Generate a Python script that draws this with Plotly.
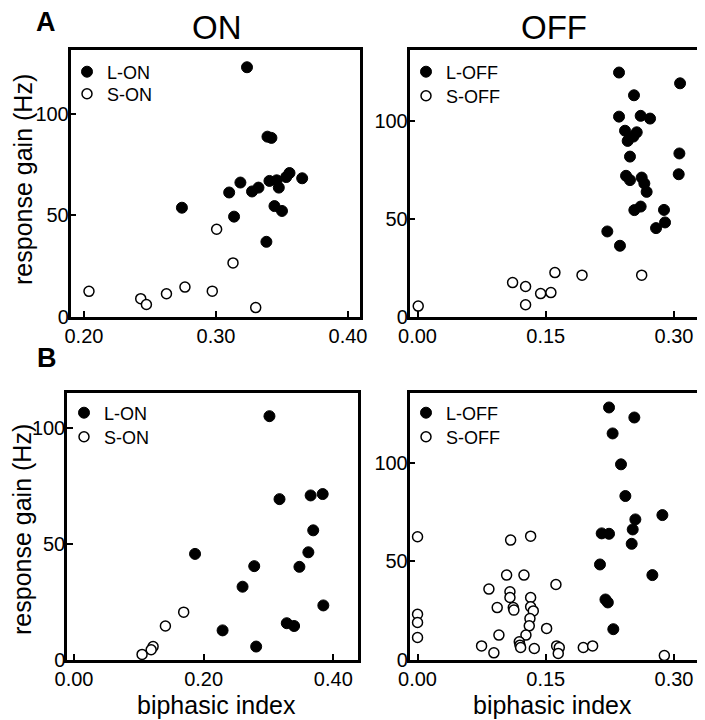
import plotly.graph_objects as go

FONT = "Liberation Sans, Arial, Helvetica, sans-serif"
# the page body has an 8 px margin; the figure starts at (8, 8) in the window
OFFSET = 8
W, H = 705 - OFFSET, 720 - OFFSET

# ---------------- data ----------------
# Panel A, ON
a_on_l_x = [0.3235, 0.339, 0.342, 0.2742, 0.310, 0.3185, 0.3137, 0.3273, 0.3322, 0.3405,
            0.346, 0.3476, 0.3443, 0.350, 0.3532, 0.3557, 0.3653, 0.3382]
a_on_l_y = [122.8, 88.6, 88.0, 53.6, 61.1, 66.0, 49.2, 61.6, 63.5, 66.8,
            67.1, 63.5, 54.4, 52.0, 68.7, 70.7, 68.1, 36.8]
a_on_s_x = [0.2038, 0.243, 0.2473, 0.2625, 0.2765, 0.2972, 0.3005, 0.3129, 0.3301]
a_on_s_y = [12.4, 8.8, 5.9, 11.2, 14.5, 12.5, 43.0, 26.4, 4.4]

# Panel A, OFF
a_off_l_x = [0.2357, 0.3071, 0.2532, 0.2357, 0.261, 0.272, 0.2427, 0.2564, 0.2458, 0.2524,
             0.2485, 0.3063, 0.3055, 0.2439, 0.2485, 0.2622, 0.2653, 0.268, 0.261, 0.2536,
             0.2883, 0.2895, 0.279, 0.222, 0.2368]
a_off_l_y = [124.5, 119.0, 112.9, 102.0, 102.4, 101.0, 94.8, 94.0, 89.6, 91.8,
             81.6, 83.2, 72.6, 71.8, 69.6, 70.9, 67.9, 63.6, 56.1, 54.3,
             54.4, 48.0, 45.1, 43.4, 36.1]
a_off_s_x = [0.0008, 0.1112, 0.1264, 0.1264, 0.144, 0.156, 0.1607, 0.1924, 0.2622]
a_off_s_y = [5.3, 17.3, 15.3, 6.0, 11.7, 12.2, 22.4, 21.1, 21.1]

# Panel B, ON
b_on_l_x = [0.3015, 0.317, 0.365, 0.3836, 0.369, 0.1867, 0.278, 0.3615, 0.3477, 0.26,
            0.3846, 0.2292, 0.3282, 0.3395, 0.281]
b_on_l_y = [105.3, 69.4, 71.0, 71.6, 55.9, 45.7, 40.4, 46.4, 40.1, 31.5,
            23.4, 12.6, 15.7, 14.5, 5.6]
b_on_s_x = [0.1692, 0.141, 0.122, 0.119, 0.105]
b_on_s_y = [20.5, 14.5, 5.6, 4.2, 2.2]

# Panel B, OFF
b_off_l_x = [0.224, 0.2536, 0.2282, 0.238, 0.2431, 0.2548, 0.2517, 0.2864, 0.2154, 0.224,
             0.2505, 0.2134, 0.2747, 0.2198, 0.2226, 0.229]
b_off_l_y = [128.1, 123.0, 114.9, 99.2, 83.1, 71.2, 66.1, 73.4, 64.1, 63.9,
             58.8, 48.3, 42.9, 30.5, 29.0, 15.4]
b_off_s_x = [0.0, 0.0, 0.0, 0.0, 0.1089, 0.1323, 0.1042, 0.1245, 0.0835, 0.1081,
             0.1081, 0.0932, 0.112, 0.1127, 0.1323, 0.1323, 0.1354, 0.1315, 0.1307, 0.151,
             0.1619, 0.1268, 0.0952, 0.119, 0.1198, 0.1206, 0.0749, 0.0893, 0.1366, 0.1627,
             0.1658, 0.1646, 0.1939, 0.2048, 0.2887]
b_off_s_y = [62.4, 23.0, 18.8, 11.2, 60.7, 62.7, 42.9, 42.9, 35.8, 34.4,
             31.5, 26.4, 26.4, 25.1, 31.5, 26.8, 24.7, 20.8, 17.1, 15.8,
             38.1, 12.4, 12.4, 9.0, 7.3, 6.1, 6.9, 3.4, 5.6, 6.9,
             6.1, 3.1, 6.1, 6.9, 2.0]

on_xticks = [0.20, 0.30, 0.40]
off_xticks = [0.00, 0.15, 0.30]
b_on_xticks = [0.00, 0.20, 0.40]
y_ticks = [0, 50, 100]

# ---------------- figure ----------------
def px_x(p):  # window pixel -> paper fraction
    return (p - OFFSET) / W

def px_y(p):
    return 1 - (p - OFFSET) / H

fig = go.Figure()

filled = dict(size=11, color="black", line=dict(color="black", width=1))
hollow = dict(size=10, color="white", line=dict(color="black", width=1.5))

panels = [
    ("x", "y", "legend", "legend5", a_on_l_x, a_on_l_y, a_on_s_x, a_on_s_y, "L-ON", "S-ON"),
    ("x2", "y2", "legend2", "legend6", a_off_l_x, a_off_l_y, a_off_s_x, a_off_s_y, "L-OFF", "S-OFF"),
    ("x3", "y3", "legend3", "legend7", b_on_l_x, b_on_l_y, b_on_s_x, b_on_s_y, "L-ON", "S-ON"),
    ("x4", "y4", "legend4", "legend8", b_off_l_x, b_off_l_y, b_off_s_x, b_off_s_y, "L-OFF", "S-OFF"),
]
for xa, ya, lg1, lg2, lx, ly, sx, sy, ln, sn in panels:
    fig.add_trace(go.Scatter(x=lx, y=ly, mode="markers", marker=filled, name=ln,
                             xaxis=xa, yaxis=ya, legend=lg1, showlegend=True, cliponaxis=False))
    fig.add_trace(go.Scatter(x=sx, y=sy, mode="markers", marker=hollow, name=sn,
                             xaxis=xa, yaxis=ya, legend=lg2, showlegend=True, cliponaxis=False))

axis_common = dict(showline=True, linecolor="black", linewidth=2.5, mirror=True,
                   ticks="inside", ticklen=6, tickwidth=2, tickcolor="black",
                   showgrid=False, zeroline=False, automargin=False,
                   tickfont=dict(family=FONT, size=20, color="black"))
y_extra = dict(ticklabelstandoff=-5)

A_top, A_bot = 50, 316.5
B_top, B_bot = 393.3, 659.5
ON_l, ON_r = 70.5, 360
BON_l, BON_r = 67, 357.5
OFF_l, OFF_r = 409.5, 697

fig.update_layout(
    xaxis=dict(domain=[px_x(ON_l), px_x(ON_r)], range=[0.1898, 0.4091], tickvals=on_xticks,
               tickformat=".2f", anchor="y", **axis_common),
    yaxis=dict(domain=[px_y(A_bot), px_y(A_top)], range=[0, 131.3], tickvals=y_ticks,
               anchor="x", **axis_common, **y_extra),
    xaxis2=dict(domain=[px_x(OFF_l), px_x(OFF_r)], range=[-0.0094, 0.3269], tickvals=off_xticks,
                tickformat=".2f", anchor="y2", **axis_common),
    yaxis2=dict(domain=[px_y(A_bot), px_y(A_top)], range=[0, 136], tickvals=y_ticks,
                anchor="x2", **axis_common, **y_extra),
    xaxis3=dict(domain=[px_x(BON_l), px_x(BON_r)], range=[-0.0108, 0.4373], tickvals=b_on_xticks,
                tickformat=".2f", anchor="y3", **axis_common),
    yaxis3=dict(domain=[px_y(B_bot), px_y(B_top)], range=[0, 115.2], tickvals=y_ticks,
                anchor="x3", **axis_common, **y_extra),
    xaxis4=dict(domain=[px_x(OFF_l), px_x(OFF_r)], range=[-0.0094, 0.3269], tickvals=off_xticks,
                tickformat=".2f", anchor="y4", **axis_common),
    yaxis4=dict(domain=[px_y(B_bot), px_y(B_top)], range=[0, 135.3], tickvals=y_ticks,
                anchor="x4", **axis_common, **y_extra),
)

leg_common = dict(font=dict(family=FONT, size=18, color="black"), bgcolor="rgba(0,0,0,0)",
                  borderwidth=0, xanchor="left", yanchor="middle", itemsizing="trace",
                  tracegroupgap=0, visible=True)
fig.update_layout(
    showlegend=True,
    legend=dict(x=px_x(67), y=px_y(72), **leg_common),
    legend5=dict(x=px_x(67), y=px_y(94), **leg_common),
    legend2=dict(x=px_x(406), y=px_y(72), **leg_common),
    legend6=dict(x=px_x(406), y=px_y(96), **leg_common),
    legend3=dict(x=px_x(64), y=px_y(413), **leg_common),
    legend7=dict(x=px_x(64), y=px_y(437), **leg_common),
    legend4=dict(x=px_x(406), y=px_y(413), **leg_common),
    legend8=dict(x=px_x(406), y=px_y(437), **leg_common),
)

annotations = [
    dict(text="<b>A</b>", x=px_x(46), y=px_y(22), size=27),
    dict(text="<b>B</b>", x=px_x(47), y=px_y(358), size=27),
    dict(text="ON", x=px_x(217), y=px_y(28), size=33),
    dict(text="OFF", x=px_x(554), y=px_y(27), size=33),
    dict(text="biphasic index", x=px_x(216), y=px_y(705), size=25),
    dict(text="biphasic index", x=px_x(552), y=px_y(705), size=25),
    dict(text="response gain (Hz)", x=px_x(23), y=px_y(180), size=25, angle=-90),
    dict(text="response gain (Hz)", x=px_x(22), y=px_y(530), size=25, angle=-90),
]
for a in annotations:
    fig.add_annotation(text=a["text"], x=a["x"], y=a["y"], xref="paper", yref="paper",
                       showarrow=False, xanchor="center", yanchor="middle",
                       textangle=a.get("angle", 0),
                       font=dict(family=FONT, size=a["size"], color="black"))

fig.update_layout(template="none", width=W, height=H, margin=dict(l=0, r=0, t=0, b=0),
                  paper_bgcolor="white", plot_bgcolor="white")

fig.write_html("out.html")
